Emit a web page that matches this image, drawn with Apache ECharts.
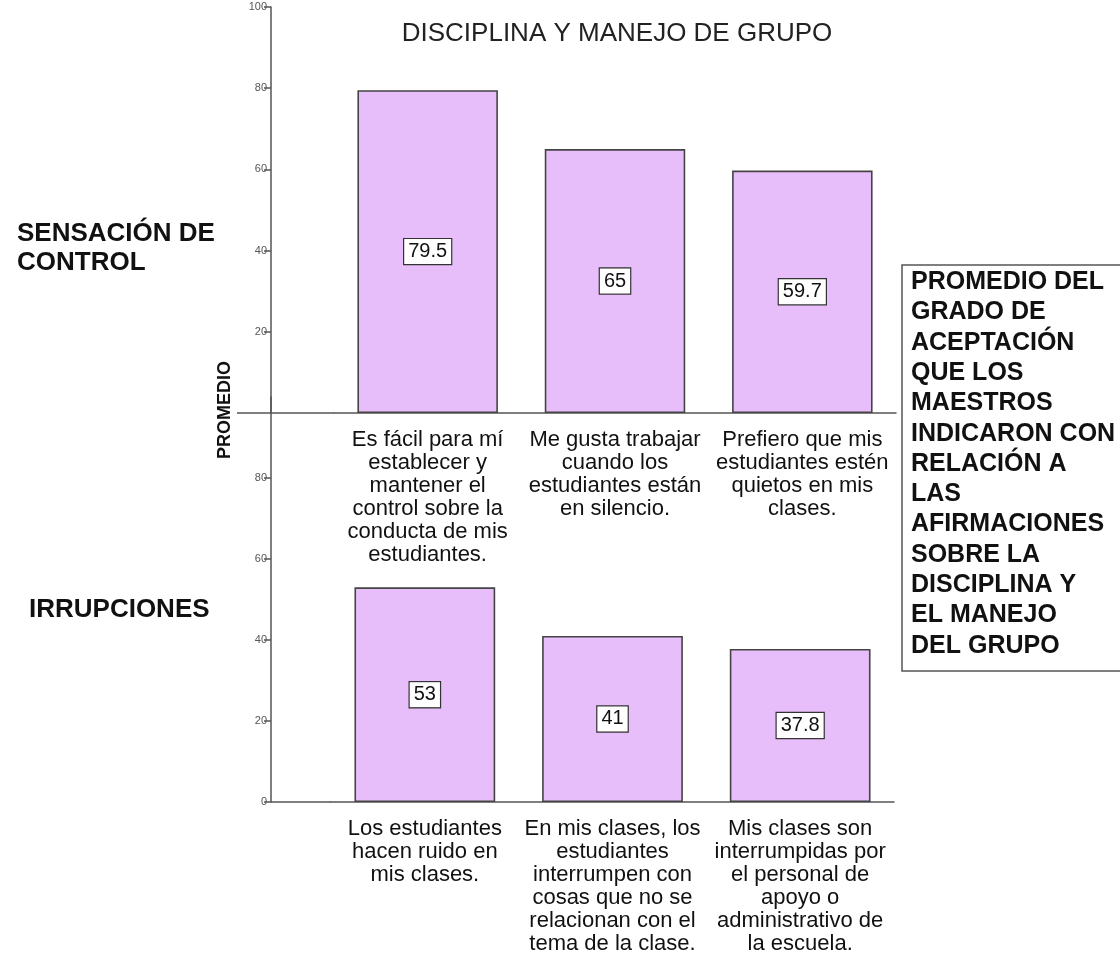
<!DOCTYPE html>
<html>
<head>
<meta charset="utf-8">
<title>Disciplina y manejo de grupo</title>
<script src="https://cdn.jsdelivr.net/npm/echarts@6/dist/echarts.min.js"></script>
<style>
  html, body { margin: 0; padding: 0; background: #fff; }
  #chart { width: 1120px; height: 958px; }
</style>
</head>
<body>
<div id="chart"></div>
<script>
// datos
const topCategories = [
  'Es fácil para mí\nestablecer y\nmantener el\ncontrol sobre la\nconducta de mis\nestudiantes.',
  'Me gusta trabajar\ncuando los\nestudiantes están\nen silencio.',
  'Prefiero que mis\nestudiantes estén\nquietos en mis\nclases.'
];
const topValues = [79.5, 65, 59.7];

const bottomCategories = [
  'Los estudiantes\nhacen ruido en\nmis clases.',
  'En mis clases, los\nestudiantes\ninterrumpen con\ncosas que no se\nrelacionan con el\ntema de la clase.',
  'Mis clases son\ninterrumpidas por\nel personal de\napoyo o\nadministrativo de\nla escuela.'
];
const bottomValues = [53, 41, 37.8];

const topTicks = [20, 40, 60, 80, 100];
const bottomTicks = [0, 20, 40, 60, 80];

const FONT = '"Liberation Sans", Arial, sans-serif';
const BAR_COLOR = '#E8BEFA';
const LINE_COLOR = '#555';

// paneles
const gridTop = { left: 334, right: 224, top: 7, bottom: 545 };
const gridBottom = { left: 331, right: 226, top: 397, bottom: 156 };
const AXIS_X = 271; // posicion del eje vertical

function makeXAxis(gridIndex, data) {
  return {
    type: 'category',
    gridIndex: gridIndex,
    data: data,
    axisLine: { lineStyle: { color: LINE_COLOR, width: 1.5 } },
    axisTick: { alignWithLabel: true, length: 14, lineStyle: { color: LINE_COLOR, width: 1.5 } },
    axisLabel: {
      interval: 0,
      margin: 15,
      fontFamily: FONT,
      fontSize: 22,
      lineHeight: 23,
      color: '#111',
      align: 'center'
    },
    splitLine: { show: false }
  };
}

function makeYAxis(gridIndex, ticks, offset) {
  return {
    type: 'value',
    gridIndex: gridIndex,
    min: 0,
    max: 100,
    interval: 20,
    offset: offset,
    axisLine: { show: true, lineStyle: { color: LINE_COLOR, width: 1.5 } },
    axisTick: { show: true, length: 7, customValues: ticks, lineStyle: { color: LINE_COLOR, width: 1.5 } },
    axisLabel: { customValues: ticks, margin: 4, fontFamily: FONT, fontSize: 11, color: '#555' },
    splitLine: { show: false }
  };
}

function makeSeries(index, values) {
  return {
    type: 'bar',
    xAxisIndex: index,
    yAxisIndex: index,
    data: values,
    barWidth: '75%',
    itemStyle: { color: BAR_COLOR, borderColor: '#444', borderWidth: 1.6 },
    label: {
      show: true,
      position: 'inside',
      fontFamily: FONT,
      fontSize: 20,
      color: '#111',
      backgroundColor: '#fff',
      borderColor: '#333',
      borderWidth: 1.2,
      padding: [3, 4, 2, 4]
    }
  };
}

const chart = echarts.init(document.getElementById('chart'));

const option = {
  animation: false,
  backgroundColor: '#fff',
  title: [
    {
      text: 'DISCIPLINA Y MANEJO DE GRUPO',
      left: 612, top: 16, textAlign: 'center',
      textStyle: { fontFamily: FONT, fontSize: 26, fontWeight: 'normal', color: '#222' }
    },
    {
      text: 'SENSACIÓN DE\nCONTROL',
      left: 12, top: 214,
      textStyle: { fontFamily: FONT, fontSize: 26, fontWeight: 'bold', lineHeight: 29, color: '#111' }
    },
    {
      text: 'IRRUPCIONES',
      left: 24, top: 592,
      textStyle: { fontFamily: FONT, fontSize: 26, fontWeight: 'bold', color: '#111' }
    },
    {
      text: 'PROMEDIO DEL\nGRADO DE\nACEPTACIÓN\nQUE LOS\nMAESTROS\nINDICARON CON\nRELACIÓN A\nLAS\nAFIRMACIONES\nSOBRE LA\nDISCIPLINA Y\nEL MANEJO\nDEL GRUPO',
      left: 902, top: 265,
      padding: [2, 300, 10, 9],
      borderColor: '#555',
      borderWidth: 1.5,
      textStyle: { fontFamily: FONT, fontSize: 25, fontWeight: 'bold', lineHeight: 30.3, color: '#111' }
    }
  ],
  grid: [gridTop, gridBottom],
  xAxis: [makeXAxis(0, topCategories), makeXAxis(1, bottomCategories)],
  yAxis: [
    makeYAxis(0, topTicks, gridTop.left - AXIS_X),
    makeYAxis(1, bottomTicks, gridBottom.left - AXIS_X)
  ],
  series: [makeSeries(0, topValues), makeSeries(1, bottomValues)]
};

chart.setOption(option);

// prolongar las lineas base hasta el eje vertical
const y0Top = chart.convertToPixel({ yAxisIndex: 0 }, 0);
const y0Bottom = chart.convertToPixel({ yAxisIndex: 1 }, 0);
chart.setOption({
  graphic: [
    {
      type: 'line',
      shape: { x1: 237, y1: y0Top, x2: gridTop.left, y2: y0Top },
      style: { stroke: LINE_COLOR, lineWidth: 1.5 }
    },
    {
      type: 'line',
      shape: { x1: AXIS_X, y1: y0Bottom, x2: gridBottom.left, y2: y0Bottom },
      style: { stroke: LINE_COLOR, lineWidth: 1.5 }
    },
    {
      type: 'text',
      x: 225, y: 410,
      rotation: Math.PI / 2,
      style: {
        text: 'PROMEDIO',
        font: 'bold 18px ' + FONT,
        fill: '#111',
        align: 'center',
        verticalAlign: 'middle'
      }
    }
  ]
});
</script>
</body>
</html>
